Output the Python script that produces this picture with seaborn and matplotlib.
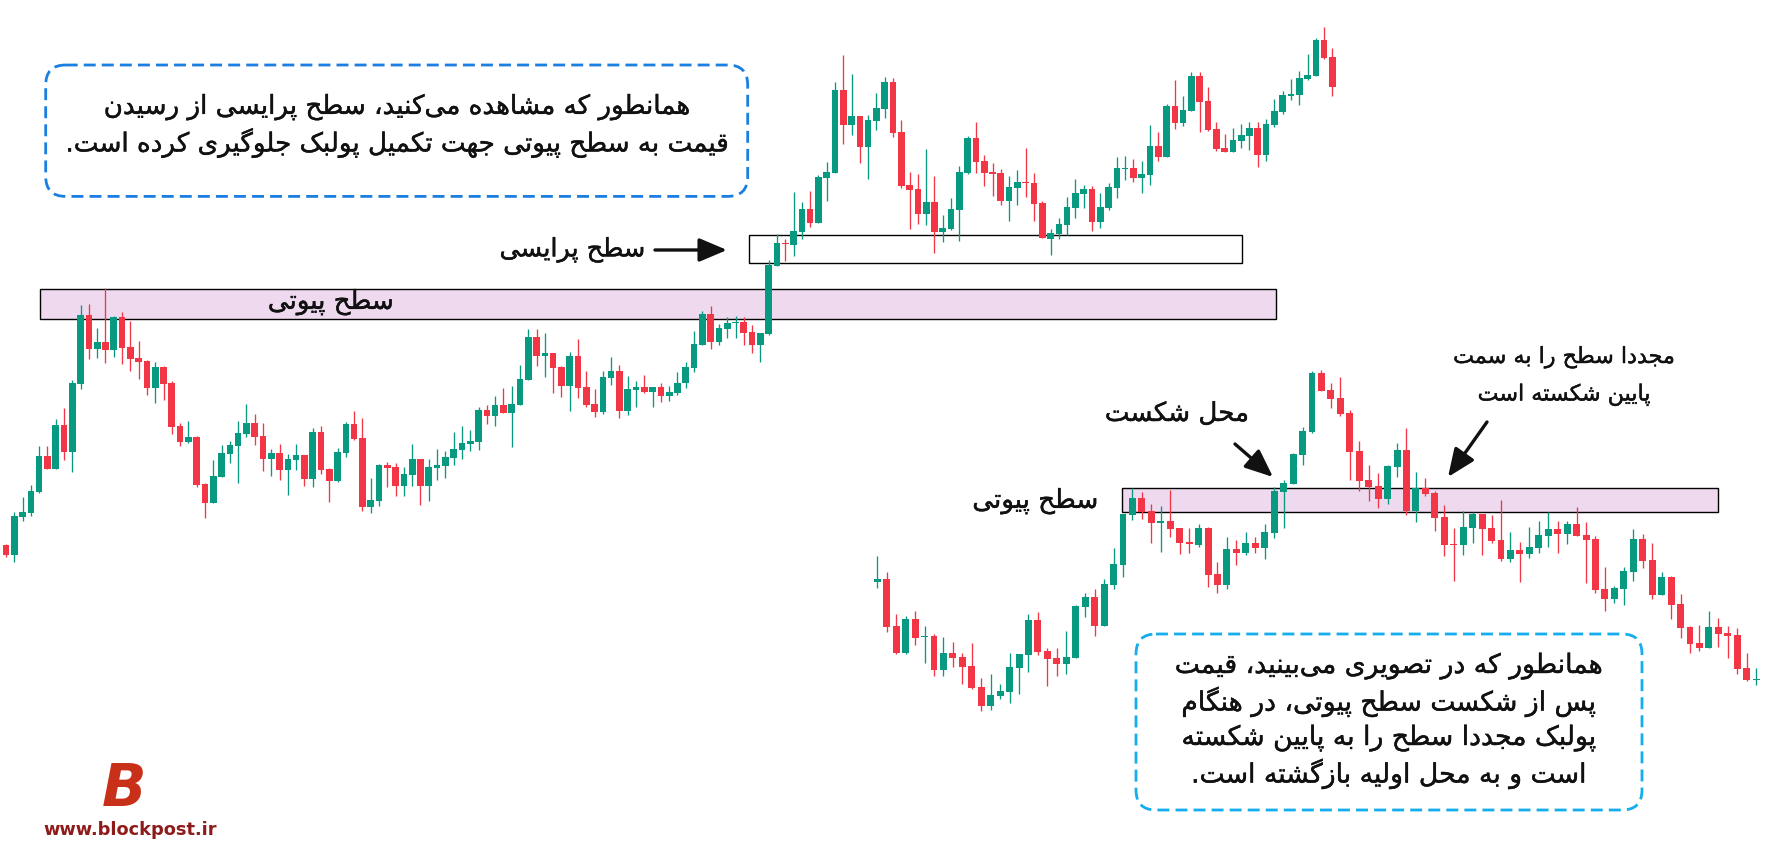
import numpy as np
import pandas as pd
import seaborn as sns
import matplotlib
matplotlib.use("Agg")
import matplotlib.pyplot as plt
import matplotlib.patheffects as pe
from matplotlib.patches import Rectangle, FancyBboxPatch, FancyArrowPatch

# ---------------- data: left chart (pivot level holds, pullback to price level) ----------------
left_open = [355,345,383,387,408,444,431,475,448,516,
             585,551,558,550,583,553,542,539,512,533,
             517,474,458,463,416,397,423,446,454,466,
             477,464,441,447,430,440,445,421,468,431,
             419,447,476,462,393,399,435,433,414,425,
             441,414,432,434,442,450,456,458,490,484,
             495,487,495,520,563,544,547,533,514,544,
             513,496,488,522,529,489,510,513,508,513,
             504,507,517,532,555,586,558,571,577,578,
             568,555,566,634,657,655,668,691,677,722,
             727,810,775,784,753,779,791,818,768,715,
             711,686,698,668,671,690,727,762,739,728,
             727,699,712,718,717,697,661,666,675,692,
             706,711,678,692,712,731,732,722,725,754,
             743,794,777,789,824,799,771,752,748,759,
             764,772,745,775,788,804,805,821,824,860,
             843]
left_high = [356,388,403,415,454,454,481,492,520,595,
             596,572,612,584,588,579,559,540,538,534,
             519,477,479,464,417,440,455,459,479,496,
             486,477,451,456,446,456,445,472,474,432,
             452,478,489,482,422,436,438,437,433,456,
             441,441,451,449,468,474,470,493,495,504,
             512,514,535,571,571,567,547,534,548,561,
             529,511,529,543,535,524,519,525,513,517,
             514,528,538,569,589,594,576,583,584,583,
             575,567,640,666,661,708,698,709,725,738,
             818,845,826,784,785,807,823,822,780,728,
             726,751,724,685,702,734,764,778,745,737,
             731,724,730,752,727,699,671,682,703,721,
             715,714,707,717,743,744,741,739,775,768,
             796,820,804,828,828,813,778,766,772,776,
             778,778,781,801,809,821,829,846,862,873,
             852]
left_low = [343,338,379,384,407,431,431,440,428,511,
            541,542,537,543,536,529,521,505,497,500,
            466,454,457,413,382,397,423,437,417,463,
            455,429,424,420,405,430,414,413,426,398,
            418,443,460,389,387,394,413,404,404,414,
            395,399,420,422,435,441,449,450,476,474,
            487,453,495,520,534,523,507,503,489,502,
            493,483,486,515,482,485,493,507,493,498,
            499,505,512,528,555,551,555,562,562,555,
            547,538,565,634,639,644,661,673,677,699,
            727,756,765,737,721,770,782,763,712,671,
            676,675,647,658,670,659,726,727,714,704,
            695,679,695,703,679,662,645,661,665,682,
            692,669,672,690,702,720,718,707,715,739,
            743,771,774,789,768,769,749,748,748,752,
            750,733,739,773,786,800,795,820,824,841,
            804]
left_close = [345,384,388,409,444,431,475,448,517,585,
              551,558,550,583,552,541,538,512,533,516,
              473,458,463,415,397,424,447,455,467,477,
              463,441,447,430,441,445,421,468,430,419,
              448,476,461,393,400,435,432,414,426,441,
              414,433,435,443,451,457,459,490,484,495,
              487,496,521,563,544,547,532,514,544,512,
              495,488,523,529,489,511,513,508,513,504,
              508,517,533,556,586,558,572,577,578,567,
              555,567,635,657,656,669,691,677,723,728,
              810,775,784,753,780,792,818,767,714,710,
              686,698,668,672,691,728,762,738,727,726,
              699,713,718,717,696,662,667,676,693,707,
              711,678,693,713,732,732,722,726,754,743,
              794,777,790,824,798,770,751,748,760,765,
              772,745,776,789,805,806,822,825,860,842,
              813]

# ---------------- data: right chart (pivot broken, retested, broken down) ----------------
right_open = [318,321,274,247,281,263,264,230,247,243,
              234,213,194,204,208,232,245,280,249,242,
              236,242,293,303,274,315,335,385,402,389,
              377,379,372,358,355,372,326,315,351,347,
              357,352,367,408,416,445,468,527,510,502,
              487,449,420,414,401,433,450,389,412,407,
              383,356,355,372,386,372,360,341,350,346,
              352,364,371,366,376,365,361,311,301,311,
              328,361,340,305,323,296,273,257,252,273,
              267,265,232,220]
right_high = [344,328,286,284,289,274,266,263,258,247,
              257,222,226,216,247,246,286,288,252,252,
              269,295,307,311,321,352,386,412,408,396,
              394,410,372,372,376,373,338,363,360,368,
              363,376,413,420,447,473,529,530,517,523,
              490,459,435,427,435,457,472,428,422,409,
              395,372,389,388,386,385,400,368,358,373,
              379,388,379,379,393,378,364,333,314,333,
              371,366,357,328,324,306,274,275,289,282,
              274,272,247,232]
right_low = [312,268,246,246,255,237,224,224,233,216,
             211,189,190,201,197,206,228,245,214,224,
             226,242,283,264,274,311,323,380,381,357,
             348,363,346,347,353,313,307,311,335,345,
             347,341,362,372,416,435,467,509,492,484,
             420,409,399,392,396,423,385,378,404,369,
             344,319,345,357,345,357,339,338,318,342,
             347,353,347,356,364,317,307,289,297,295,
             319,332,301,305,281,262,247,249,252,253,
             242,226,219,215]
right_close = [321,273,247,281,262,264,230,247,242,233,
               212,194,205,209,233,246,280,248,241,236,
               243,294,303,274,316,336,386,402,388,377,
               379,371,357,356,372,325,315,351,347,357,
               352,368,409,417,446,469,527,509,501,486,
               448,419,413,401,434,450,389,412,406,382,
               355,355,373,386,371,359,341,350,346,353,
               365,371,366,376,364,360,310,301,312,329,
               361,339,305,323,295,272,256,252,273,266,
               264,231,220,221]

# zones (price levels)
left_pivot_zone = (581, 611)
left_price_zone = (637, 665)
right_pivot_zone = (388, 412)

# texts
txt_top = ["همانطور که مشاهده می‌کنید، سطح پرایسی از رسیدن",
           "قیمت به سطح پیوتی جهت تکمیل پولبک جلوگیری کرده است."]
txt_bottom = ["همانطور که در تصویری می‌بینید، قیمت",
              "پس از شکست سطح پیوتی، در هنگام",
              "پولبک مجددا سطح را به پایین شکسته",
              "است و به محل اولیه بازگشته است."]
lbl_pivot = "سطح پیوتی"
lbl_price = "سطح پرایسی"
lbl_break = "محل شکست"
lbl_again = ["مجددا سطح را به سمت", "پایین شکسته است"]
logo_mark = "B"
logo_text = "www.blockpost.ir"

GREEN = "#089981"
RED = "#F23645"
PINK = "#EED9EF"
INK = "#111111"

# ---------------- minimal Persian shaping (matplotlib has no bidi/shaping) ----------------
FORMS = {
    '\u0627': ('\uFE8D', '\uFE8E', None, None),
    '\u0628': ('\uFE8F', '\uFE90', '\uFE91', '\uFE92'),
    '\u062A': ('\uFE95', '\uFE96', '\uFE97', '\uFE98'),
    '\u062C': ('\uFE9D', '\uFE9E', '\uFE9F', '\uFEA0'),
    '\u062D': ('\uFEA1', '\uFEA2', '\uFEA3', '\uFEA4'),
    '\u062F': ('\uFEA9', '\uFEAA', None, None),
    '\u0631': ('\uFEAD', '\uFEAE', None, None),
    '\u0632': ('\uFEAF', '\uFEB0', None, None),
    '\u0633': ('\uFEB1', '\uFEB2', '\uFEB3', '\uFEB4'),
    '\u0634': ('\uFEB5', '\uFEB6', '\uFEB7', '\uFEB8'),
    '\u0635': ('\uFEB9', '\uFEBA', '\uFEBB', '\uFEBC'),
    '\u0637': ('\uFEC1', '\uFEC2', '\uFEC3', '\uFEC4'),
    '\u0642': ('\uFED5', '\uFED6', '\uFED7', '\uFED8'),
    '\u0644': ('\uFEDD', '\uFEDE', '\uFEDF', '\uFEE0'),
    '\u0645': ('\uFEE1', '\uFEE2', '\uFEE3', '\uFEE4'),
    '\u0646': ('\uFEE5', '\uFEE6', '\uFEE7', '\uFEE8'),
    '\u0647': ('\uFEE9', '\uFEEA', '\uFEEB', '\uFEEC'),
    '\u0648': ('\uFEED', '\uFEEE', None, None),
    '\u067E': ('\uFB56', '\uFB57', '\uFB58', '\uFB59'),
    '\u06A9': ('\uFB8E', '\uFB8F', '\uFB90', '\uFB91'),
    '\u06AF': ('\uFB92', '\uFB93', '\uFB94', '\uFB95'),
    '\u06CC': ('\uFBFC', '\uFBFD', '\uFBFE', '\uFBFF'),
}


def fa(text):
    out = []
    n = len(text)
    for i, ch in enumerate(text):
        if ch not in FORMS:
            out.append(ch)
            continue
        f = FORMS[ch]
        prev = text[i - 1] if i > 0 else None
        nxt = text[i + 1] if i < n - 1 else None
        jp = prev in FORMS and FORMS[prev][2] is not None
        jn = nxt in FORMS and f[2] is not None
        if jp and jn:
            out.append(f[3])
        elif jp:
            out.append(f[1])
        elif jn:
            out.append(f[2])
        else:
            out.append(f[0])
    return ''.join(out).replace('\u200c', '')[::-1]


# ---------------- figure ----------------
sns.set_theme(style="white")
plt.rcParams['font.family'] = ['DejaVu Sans']

W, H = 1790, 865
fig = plt.figure(figsize=(W / 100, H / 100), dpi=100)
fig.patch.set_facecolor("white")


def candles_df(o, h, l, c):
    df = pd.DataFrame({"open": o, "high": h, "low": l, "close": c})
    df["idx"] = np.arange(len(df))
    df["up"] = df["close"] >= df["open"]
    return df


def draw_candles(ax, df, width):
    colors = np.where(df["up"], GREEN, RED)
    ax.vlines(df["idx"], df["low"], df["high"], colors=colors, linewidth=0.95, zorder=3)
    bottom = np.minimum(df["open"], df["close"])
    height = np.maximum(np.abs(df["close"] - df["open"]), 1.0)
    ax.bar(df["idx"], height, bottom=bottom, width=width, color=colors, linewidth=0, zorder=4)


left = candles_df(left_open, left_high, left_low, left_close)
right = candles_df(right_open, right_high, right_low, right_close)

# left chart axes (candle spacing 8.29 px, first candle at x=6 px)
ax1 = fig.add_axes([0, 0, 1, 1])
ax1.set_xlim(-6 / 8.29, (W - 6) / 8.29)
ax1.set_ylim(35, 900)
ax1.axis("off")
draw_candles(ax1, left, 0.8)
ax1.add_patch(Rectangle((4.1, left_pivot_zone[0]), 149.1, left_pivot_zone[1] - left_pivot_zone[0],
                        facecolor=PINK, edgecolor="black", linewidth=1.0, zorder=1))
ax1.add_patch(Rectangle((89.66, left_price_zone[0]), 59.47, left_price_zone[1] - left_price_zone[0],
                        facecolor="none", edgecolor="black", linewidth=1.0, zorder=2))

# right chart axes (candle spacing 9.45 px, first candle at x=877.3 px)
ax2 = fig.add_axes([0, 0, 1, 1])
ax2.set_xlim(-877.3 / 9.45, (W - 877.3) / 9.45)
ax2.set_ylim(35, 900)
ax2.axis("off")
draw_candles(ax2, right, 0.74)
ax2.add_patch(Rectangle((25.93, right_pivot_zone[0]), 63.07, right_pivot_zone[1] - right_pivot_zone[0],
                        facecolor=PINK, edgecolor="black", linewidth=1.0, zorder=1))

# annotation overlay in pixel units
ax3 = fig.add_axes([0, 0, 1, 1])
ax3.set_xlim(0, W)
ax3.set_ylim(H, 0)
ax3.axis("off")

renderer = fig.canvas.get_renderer()
thick = [pe.withStroke(linewidth=0.3, foreground=INK)]


def fit_size(s, target_w, size=16):
    t = ax3.text(0, 0, fa(s), fontsize=size)
    w = t.get_window_extent(renderer).width
    t.remove()
    return size * target_w / w


def put(x, y, s, size):
    return ax3.text(x, y, fa(s), fontsize=size, ha="center", va="center",
                    color=INK, zorder=10, path_effects=thick)


# top-left text box
ax3.add_patch(FancyBboxPatch((45.7, 65), 702, 131.4, boxstyle="round,pad=0,rounding_size=20",
                             facecolor="white", edgecolor="#1A7FE0", linewidth=2.0,
                             linestyle=(0, (4.3, 2.2)), zorder=8))
fs_top = fit_size(txt_top[1], 664)
put(396.7, 107, txt_top[0], fs_top)
put(396.7, 143, txt_top[1], fs_top)

# bottom-right text box
ax3.add_patch(FancyBboxPatch((1136, 634), 506, 176, boxstyle="round,pad=0,rounding_size=20",
                             facecolor="white", edgecolor="#14ADEE", linewidth=2.0,
                             linestyle=(0, (4.3, 2.2)), zorder=8))
fs_bot = fit_size(txt_bottom[0], 428)
for yy, s in zip([666, 702, 738, 774], txt_bottom):
    put(1389, yy, s, fs_bot)

# labels
put(331, 302, lbl_pivot, fit_size(lbl_pivot, 126))
put(572.5, 250, lbl_price, fit_size(lbl_price, 146))
put(1035.5, 501, lbl_pivot, fit_size(lbl_pivot, 126))
put(1177, 414, lbl_break, fit_size(lbl_break, 144))
fs_again = fit_size(lbl_again[0], 222)
put(1564, 357, lbl_again[0], fs_again)
put(1564, 395, lbl_again[1], fs_again)

# arrows
for (x0, y0), (x1, y1) in [((655, 250), (727, 250)),
                           ((1235, 444), (1273, 477)),
                           ((1487, 422), (1448, 477))]:
    ax3.add_patch(FancyArrowPatch((x0, y0), (x1, y1),
                                  arrowstyle="-|>,head_length=0.85,head_width=0.36",
                                  mutation_scale=20, color=INK, linewidth=2.4,
                                  shrinkA=0, shrinkB=0, zorder=10))

# logo
ax3.text(124, 789, logo_mark, fontsize=42, fontweight="heavy", style="italic",
         color="#C9301A", ha="center", va="center", zorder=10)
tl = ax3.text(130, 830, logo_text, fontsize=11, fontweight="bold", color="#8E1A1A",
              ha="center", va="center", zorder=10)
tl.set_fontsize(11 * 172 / tl.get_window_extent(renderer).width)

fig.savefig("out.png", dpi=100, facecolor="white")
